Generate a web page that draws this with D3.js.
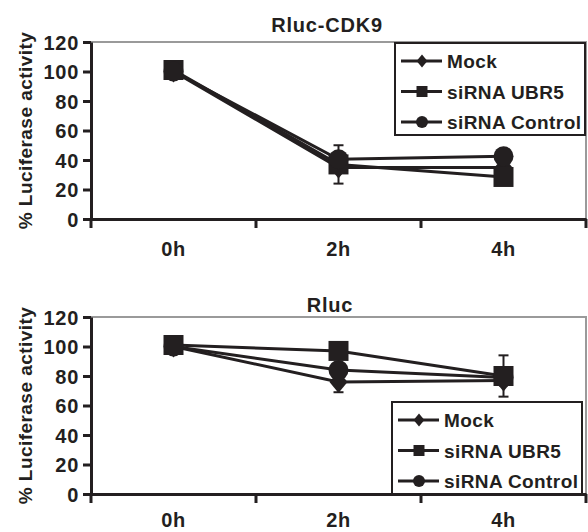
<!DOCTYPE html>
<html>
<head>
<meta charset="utf-8">
<script src="https://cdn.jsdelivr.net/npm/d3@7"></script>
<style>
  body { margin: 0; background: #fff; }
  svg { display: block; }
  text { font-family: "Liberation Sans", Arial, sans-serif; font-weight: bold; fill: #231f20; }
</style>
</head>
<body>
<svg id="chart" width="588" height="532"></svg>
<script>
// categories and ticks
const timepoints = ["0h", "2h", "4h"];
const yTicks = [0, 20, 40, 60, 80, 100, 120];
const seriesNames = ["Mock", "siRNA UBR5", "siRNA Control"];

// Rluc-CDK9 panel
const cdk9Mock = [100, 35, 35];
const cdk9Ubr5 = [101, 37, 28.5];
const cdk9Control = [100, 40.5, 42.5];
const cdk9MockErr = [0, 0, 0];
const cdk9Ubr5Err = [0, 13, 0];
const cdk9ControlErr = [0, 0, 0];

// Rluc panel
const rlucMock = [100, 76, 77];
const rlucUbr5 = [101, 97, 80];
const rlucControl = [100, 84, 79];
const rlucMockErr = [0, 7, 0];
const rlucUbr5Err = [0, 0, 14];
const rlucControlErr = [0, 0, 0];

const ink = "#231f20";
const svg = d3.select("#chart");

// marker shapes, all filled black
function marker(shape, s) {
  if (shape === "square") return `M${-s},${-s}H${s}V${s}H${-s}Z`;
  if (shape === "diamond") return `M0,${-s * 1.1}L${s * 0.9},0L0,${s * 1.1}L${-s * 0.9},0Z`;
  return d3.arc()({ innerRadius: 0, outerRadius: s, startAngle: 0, endAngle: 2 * Math.PI });
}
const shapes = ["diamond", "square", "circle"];

function drawPanel(p) {
  const g = svg.append("g");
  const x = d3.scaleBand().domain(timepoints).range([91, 586]).padding(0);
  const y = d3.scaleLinear().domain([0, 120]).range([p.bottom, p.top]);

  // gray frame on top and right
  g.append("path")
    .attr("d", `M91,${y(120)}H${x.range()[1]}V${y(0)}`)
    .attr("fill", "none").attr("stroke", "#9a9a9a").attr("stroke-width", 2);

  // legend box
  const lg = g.append("g");
  lg.append("rect")
    .attr("x", p.legend.x).attr("y", p.legend.y)
    .attr("width", 190).attr("height", 92)
    .attr("fill", "#fff").attr("stroke", ink).attr("stroke-width", 2);
  seriesNames.forEach((name, i) => {
    const cy = p.legend.y + 18 + i * 30.5;
    lg.append("line")
      .attr("x1", p.legend.x + 6).attr("x2", p.legend.x + 47)
      .attr("y1", cy).attr("y2", cy)
      .attr("stroke", ink).attr("stroke-width", 3);
    lg.append("path")
      .attr("d", marker(shapes[i], shapes[i] === "square" ? 5.5 : 6))
      .attr("transform", `translate(${p.legend.x + 27},${cy})`)
      .attr("fill", ink);
    lg.append("text")
      .attr("x", p.legend.x + 52).attr("y", cy + 7)
      .attr("font-size", 19).attr("letter-spacing", 0.4)
      .text(name);
  });

  // series: line, error bars, markers
  const line = d3.line().x((d, i) => x(timepoints[i]) + x.bandwidth() / 2).y(d => y(d));
  p.series.forEach((vals, k) => {
    g.append("path").attr("d", line(vals))
      .attr("fill", "none").attr("stroke", ink).attr("stroke-width", 3);
    vals.forEach((v, i) => {
      const cx = x(timepoints[i]) + x.bandwidth() / 2;
      const e = p.errors[k][i];
      if (e > 0) {
        g.append("line").attr("x1", cx).attr("x2", cx)
          .attr("y1", y(v - e)).attr("y2", y(v + e))
          .attr("stroke", ink).attr("stroke-width", 2);
        [v - e, v + e].forEach(w => {
          g.append("line").attr("x1", cx - 5).attr("x2", cx + 5)
            .attr("y1", y(w)).attr("y2", y(w))
            .attr("stroke", ink).attr("stroke-width", 2);
        });
      }
    });
    g.selectAll(null).data(vals).join("path")
      .attr("d", marker(shapes[k], 10))
      .attr("transform", (d, i) => `translate(${x(timepoints[i]) + x.bandwidth() / 2},${y(d)})`)
      .attr("fill", ink);
  });

  // y axis
  const ya = g.append("g").attr("transform", "translate(91,0)")
    .call(d3.axisLeft(y).tickValues(yTicks).tickSize(8).tickPadding(4).tickSizeOuter(0));
  ya.select(".domain").attr("stroke", ink).attr("stroke-width", 3);
  ya.selectAll(".tick line").attr("stroke", ink).attr("stroke-width", 3);
  ya.selectAll(".tick text").attr("font-size", 20).attr("letter-spacing", 0.7)
    .attr("font-family", null).attr("fill", ink).attr("dy", "0.36em");

  // x axis: labels at centers, ticks at band edges
  const xa = g.append("g").attr("transform", `translate(0,${y(0)})`)
    .call(d3.axisBottom(x).tickSize(0).tickPadding(p.labelPad).tickSizeOuter(0));
  xa.select(".domain").attr("stroke", ink).attr("stroke-width", 3);
  xa.selectAll(".tick text").attr("font-size", 20).attr("letter-spacing", 0.7)
    .attr("font-family", null).attr("fill", ink);
  const edges = timepoints.map(t => x(t)).concat([x.range()[1]]);
  xa.selectAll(".edge").data(edges).join("line")
    .attr("x1", d => d).attr("x2", d => d).attr("y1", 0).attr("y2", 9)
    .attr("stroke", ink).attr("stroke-width", 3);

  // titles
  g.append("text").attr("x", p.titleX).attr("y", p.titleY)
    .attr("text-anchor", "middle").attr("font-size", 20).attr("letter-spacing", 0.8)
    .text(p.title);
  g.append("text")
    .attr("transform", `translate(32,${(p.top + p.bottom) / 2}) rotate(-90)`)
    .attr("text-anchor", "middle").attr("font-size", 19).attr("letter-spacing", 0.45)
    .text("% Luciferase activity");
}

drawPanel({
  title: "Rluc-CDK9", titleX: 327, titleY: 32,
  top: 42, bottom: 219, labelPad: 23,
  legend: { x: 395, y: 43 },
  series: [cdk9Mock, cdk9Ubr5, cdk9Control],
  errors: [cdk9MockErr, cdk9Ubr5Err, cdk9ControlErr]
});

drawPanel({
  title: "Rluc", titleX: 330, titleY: 312,
  top: 317, bottom: 494, labelPad: 19,
  legend: { x: 392, y: 402 },
  series: [rlucMock, rlucUbr5, rlucControl],
  errors: [rlucMockErr, rlucUbr5Err, rlucControlErr]
});
</script>
</body>
</html>
